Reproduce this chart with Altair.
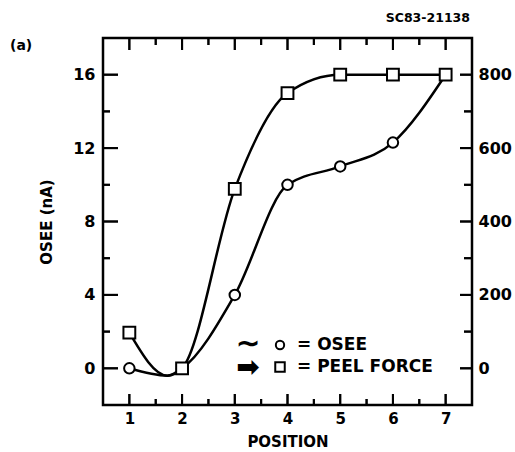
import altair as alt
import pandas as pd

positions = [1, 2, 3, 4, 5, 6, 7]
osee_vals = [0, 0, 4, 10, 11, 12.3, 16]
peel_vals = [97, 0, 489, 750, 800, 800, 800]

# curve points (measured markers plus the dip read between positions 1 and 2)
osee_curve_x = [1, 1.72, 2, 3, 4, 5, 6, 7]
osee_curve_y = [0, -0.4, 0, 4, 10, 11, 12.3, 16]
peel_curve_x = [1, 1.72, 2, 3, 4, 5, 6, 7]
peel_curve_y = [97, -20, 0, 489, 750, 800, 800, 800]

x_major = [1, 2, 3, 4, 5, 6, 7]
x_minor = [1.5, 2.5, 3.5, 4.5, 5.5, 6.5]
y_major = [0, 4, 8, 12, 16]
y_minor = [2, 6, 10, 14]
r_major = [0, 200, 400, 600, 800]
r_minor = [100, 300, 500, 700]

W, H = 369, 367
FONT = "DejaVu Sans"

pts = pd.DataFrame({"pos": positions, "osee": osee_vals, "peel": peel_vals})
oc = pd.DataFrame({"pos": osee_curve_x, "osee": osee_curve_y})
pc = pd.DataFrame({"pos": peel_curve_x, "peel": peel_curve_y})

xs = alt.Scale(domain=[0.5, 7.5], nice=False, zero=False)
ys = alt.Scale(domain=[-2, 18], nice=False, zero=False)
rs = alt.Scale(domain=[-100, 900], nice=False, zero=False)

x_lab = alt.Axis(orient="bottom", values=x_major, ticks=False, domain=False, grid=False,
                 labelPadding=6, labelFont=FONT, labelFontSize=15, labelFontWeight="bold",
                 labelColor="black", title="POSITION", titleFont=FONT, titleFontSize=15,
                 titleFontWeight="bold", titleColor="black", titlePadding=8)
y_lab = alt.Axis(orient="left", values=y_major, ticks=False, domain=False, grid=False,
                 labelPadding=8, labelFont=FONT, labelFontSize=16, labelFontWeight="bold",
                 labelColor="black", title="OSEE (nA)", titleFont=FONT, titleFontSize=15,
                 titleFontWeight="bold", titleColor="black", titlePadding=18)
r_lab = alt.Axis(orient="right", values=r_major, ticks=False, domain=False, grid=False,
                 labelPadding=6, labelFont=FONT, labelFontSize=16, labelFontWeight="bold",
                 labelColor="black", title=None)

osee_line = alt.Chart(oc).mark_line(interpolate="monotone", color="black", strokeWidth=2.5).encode(
    x=alt.X("pos:Q", scale=xs, axis=x_lab),
    y=alt.Y("osee:Q", scale=ys, axis=y_lab),
)
peel_line = alt.Chart(pc).mark_line(interpolate="monotone", color="black", strokeWidth=2.5).encode(
    x=alt.X("pos:Q", scale=xs, axis=None),
    y=alt.Y("peel:Q", scale=rs, axis=r_lab),
)
osee_pts = alt.Chart(pts).mark_point(shape="circle", filled=True, fill="white", stroke="black",
                                     strokeWidth=2, size=110, opacity=1).encode(
    x=alt.X("pos:Q", scale=xs, axis=None),
    y=alt.Y("osee:Q", scale=ys, axis=None),
)
peel_pts = alt.Chart(pts).mark_point(shape="square", filled=True, fill="white", stroke="black",
                                     strokeWidth=2, size=140, opacity=1).encode(
    x=alt.X("pos:Q", scale=xs, axis=None),
    y=alt.Y("peel:Q", scale=rs, axis=None),
)


# inward ticks drawn as short stroke symbols placed through the data scales
def xticks(vals, length, centre):
    return alt.Chart(pd.DataFrame({"v": vals})).mark_point(
        shape="stroke", angle=90, size=length * length, stroke="black", strokeWidth=2,
        filled=False, opacity=1
    ).encode(x=alt.X("v:Q", scale=xs, axis=None), y=alt.value(centre))


def yticks(vals, scale, length, centre):
    return alt.Chart(pd.DataFrame({"v": vals})).mark_point(
        shape="stroke", angle=0, size=length * length, stroke="black", strokeWidth=2,
        filled=False, opacity=1
    ).encode(y=alt.Y("v:Q", scale=scale, axis=None), x=alt.value(centre))


# the same ticks as rule marks (coincide exactly with the symbols)
def xrules(vals, y0, y1):
    return alt.Chart(pd.DataFrame({"v": vals})).mark_rule(color="black", strokeWidth=2).encode(
        x=alt.X("v:Q", scale=xs, axis=None), y=alt.value(y0), y2=alt.value(y1))


def yrules(vals, scale, x0, x1):
    return alt.Chart(pd.DataFrame({"v": vals})).mark_rule(color="black", strokeWidth=2).encode(
        y=alt.Y("v:Q", scale=scale, axis=None), x=alt.value(x0), x2=alt.value(x1))


tick_layers = [
    xticks(x_major, 11, H - 5.5), xticks(x_minor, 6, H - 3),
    xticks(x_major, 12, 6), xticks(x_minor, 7, 3.5),
    yticks(y_major, ys, 15, 7.5), yticks(y_minor, ys, 7, 3.5),
    yticks(r_major, rs, 12, W - 6), yticks(r_minor, rs, 8, W - 4),
    xrules(x_major, H, H - 11), xrules(x_minor, H, H - 6),
    xrules(x_major, 0, 12), xrules(x_minor, 0, 7),
    yrules(y_major, ys, 0, 15), yrules(y_minor, ys, 0, 7),
    yrules(r_major, rs, W, W - 12), yrules(r_minor, rs, W, W - 8),
]

code_txt = alt.Chart(pd.DataFrame({"t": ["SC83-21138"]})).mark_text(
    font=FONT, fontSize=12.5, fontWeight="bold", align="right", baseline="middle", color="black"
).encode(text="t:N", x=alt.value(367), y=alt.value(-20))
a_txt = alt.Chart(pd.DataFrame({"t": ["(a)"]})).mark_text(
    font=FONT, fontSize=14, fontWeight="bold", align="left", baseline="middle", color="black"
).encode(text="t:N", x=alt.value(-93), y=alt.value(8))

leg_txt = alt.Chart(pd.DataFrame({"t": ["=  OSEE", "=  PEEL FORCE"], "yy": [307, 329]})).mark_text(
    font=FONT, fontSize=17, fontWeight="bold", align="left", baseline="middle", color="black"
).encode(text="t:N", x=alt.value(194), y=alt.Y("yy:Q", scale=None))
leg_circ = alt.Chart(pd.DataFrame({"yy": [307]})).mark_point(
    shape="circle", filled=True, fill="white", stroke="black", strokeWidth=2, size=70, opacity=1
).encode(x=alt.value(177), y=alt.Y("yy:Q", scale=None))
leg_sq = alt.Chart(pd.DataFrame({"yy": [329]})).mark_point(
    shape="square", filled=True, fill="white", stroke="black", strokeWidth=2, size=90, opacity=1
).encode(x=alt.value(177), y=alt.Y("yy:Q", scale=None))
leg_sym1 = alt.Chart(pd.DataFrame({"t": ["∼"], "yy": [306]})).mark_text(
    font=FONT, fontSize=30, fontWeight="bold", align="center", baseline="middle", color="black"
).encode(text="t:N", x=alt.value(145), y=alt.Y("yy:Q", scale=None))
leg_sym2 = alt.Chart(pd.DataFrame({"t": ["➡"], "yy": [330]})).mark_text(
    font=FONT, fontSize=28, fontWeight="bold", align="center", baseline="middle", color="black"
).encode(text="t:N", x=alt.value(145), y=alt.Y("yy:Q", scale=None))

chart = alt.layer(
    osee_line, peel_line, osee_pts, peel_pts, *tick_layers,
    code_txt, a_txt, leg_txt, leg_circ, leg_sq, leg_sym1, leg_sym2
).resolve_scale(y="independent").resolve_axis(x="independent", y="independent").properties(
    width=W, height=H,
    autosize=alt.AutoSizeParams(type="none"),
    padding={"left": 103, "top": 38, "right": 43, "bottom": 47},
).configure_view(stroke="black", strokeWidth=2.5)

chart.save("out.html", embed_options={"renderer": "svg", "actions": False})
